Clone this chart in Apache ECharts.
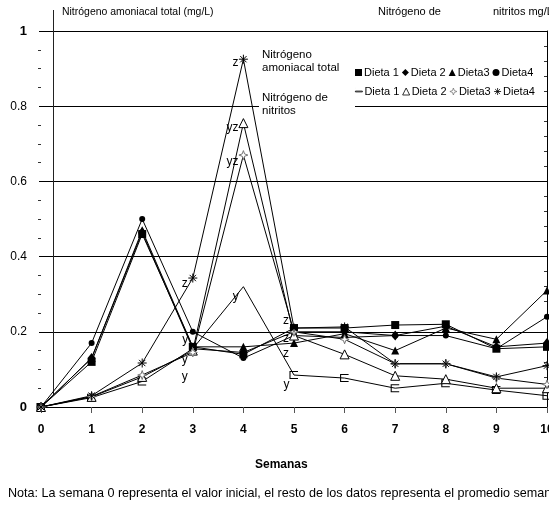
<!DOCTYPE html>
<html>
<head>
<meta charset="utf-8">
<script src="https://cdn.jsdelivr.net/npm/echarts@6/dist/echarts.min.js"></script>
<style>
  html, body { margin: 0; padding: 0; background: #fff; }
  #chart { width: 549px; height: 507px; }
</style>
</head>
<body>
<div id="chart"></div>
<script>
// Semanas de muestreo
const semanas = [0, 1, 2, 3, 4, 5, 6, 7, 8, 9, 10];

// Nitrógeno amoniacal total (mg/L) por dieta
const amonioDieta1 = [0, 0.12, 0.46, 0.16, 0.14, 0.21, 0.21, 0.218, 0.22, 0.155, 0.16];
const amonioDieta2 = [0, 0.13, 0.465, 0.155, 0.145, 0.20, 0.20, 0.19, 0.215, 0.16, 0.17];
const amonioDieta3 = [0, 0.13, 0.47, 0.16, 0.16, 0.17, 0.195, 0.15, 0.21, 0.18, 0.31];
const amonioDieta4 = [0, 0.17, 0.50, 0.20, 0.13, 0.19, 0.185, 0.19, 0.19, 0.155, 0.24];

// Nitrógeno de nitritos (mg/L) por dieta
const nitritoDieta1 = [0, 0.025, 0.068, 0.155, 0.32, 0.085, 0.077, 0.05, 0.063, 0.045, 0.03];
const nitritoDieta2 = [0, 0.027, 0.08, 0.15, 0.755, 0.19, 0.14, 0.083, 0.074, 0.05, 0.05];
const nitritoDieta3 = [0, 0.028, 0.085, 0.145, 0.67, 0.20, 0.18, 0.115, 0.115, 0.077, 0.06];
const nitritoDieta4 = [0, 0.03, 0.117, 0.343, 0.925, 0.21, 0.213, 0.115, 0.115, 0.08, 0.11];

// Letras de significancia sobre los nitritos
const letrasNitrito1 = ['', '', '', 'y', 'y', 'y', '', '', '', '', ''];
const letrasNitrito2 = ['', '', '', 'y', 'yz', 'z', '', '', '', '', ''];
const letrasNitrito3 = ['', '', '', 'y', 'yz', 'z', '', '', '', '', ''];
const letrasNitrito4 = ['', '', '', 'z', 'z', 'z', '', '', '', '', ''];

// Etiquetas de los ejes y de la leyenda
const ticksY = [0, 0.2, 0.4, 0.6, 0.8, 1];
const nombresDieta = ['Dieta 1', 'Dieta 2', 'Dieta3', 'Dieta4'];

// Desplazamiento vertical de cada letra (serie -> semana -> dy)
const desplazLetras = {
  1: { 3: -9, 4: 10, 5: 10 },
  2: { 3: 9, 4: 5, 5: 3 },
  3: { 3: 24, 4: 7, 5: 22 },
  4: { 3: 6, 4: 3, 5: -7 }
};
// Semanas en que la serie de nitritos 1 no muestra marcador
const sinMarcador1 = [3, 4];

function puntos(valores, letras, serieIdx, ocultos) {
  return semanas.map((s, i) => {
    const item = { value: [s, valores[i]] };
    if (ocultos && ocultos.indexOf(s) >= 0) {
      item.itemStyle = { borderColor: 'rgba(0,0,0,0)' };
    }
    if (letras && letras[i]) {
      const dy = (desplazLetras[serieIdx] && desplazLetras[serieIdx][s]) || 0;
      item.label = {
        show: true,
        formatter: letras[i],
        position: 'left',
        distance: 0,
        offset: [0, dy],
        color: '#000',
        fontSize: 12,
        fontFamily: 'Liberation Sans, Arial, sans-serif'
      };
    }
    return item;
  });
}

const FONT = 'Liberation Sans, Arial, sans-serif';
const asterisco = 'path://M5,0 L5,10 M0,5 L10,5 M1.5,1.5 L8.5,8.5 M1.5,8.5 L8.5,1.5';
const estrella = 'path://M5,0 L6.3,3.7 L10,5 L6.3,6.3 L5,10 L3.7,6.3 L0,5 L3.7,3.7 Z';
const corchete = 'path://M10,0 L0,0 L0,8 L10,8';
// raya fina; los puntos extremos mantienen el cuadro 10x10
const raya = 'path://M0,4.4 L10,4.4 L10,5.6 L0,5.6 Z M0,0 L0.01,0 Z M10,10 L9.99,10 Z';

function serie(nombre, valores, simbolo, tam, estilo, letras, idx, ocultos) {
  return {
    name: nombre,
    type: 'line',
    data: puntos(valores, letras, idx, ocultos),
    symbol: simbolo,
    symbolSize: tam,
    showSymbol: true,
    clip: false,
    lineStyle: { color: '#000', width: 1 },
    itemStyle: estilo,
    emphasis: { disabled: true },
    z: 3
  };
}

const negro = { color: '#000' };
const series = [
  serie(nombresDieta[0], amonioDieta1, 'rect', 8, negro, null, 0),
  serie(nombresDieta[1], amonioDieta2, 'diamond', [8, 10], negro, null, 0),
  serie(nombresDieta[2], amonioDieta3, 'triangle', 8, negro, null, 0),
  serie(nombresDieta[3], amonioDieta4, 'circle', 6, negro, null, 0),
  serie('N ' + nombresDieta[0], nitritoDieta1, corchete, [8, 7],
    { color: 'rgba(0,0,0,0)', borderColor: '#000', borderWidth: 1 }, letrasNitrito1, 1, sinMarcador1),
  serie('N ' + nombresDieta[1], nitritoDieta2, 'triangle', 9,
    { color: '#fff', borderColor: '#000', borderWidth: 1 }, letrasNitrito2, 2),
  serie('N ' + nombresDieta[2], nitritoDieta3, estrella, 9,
    { color: '#fff', borderColor: '#777', borderWidth: 1 }, letrasNitrito3, 3),
  serie('N ' + nombresDieta[3], nitritoDieta4, asterisco, 9,
    { color: 'rgba(0,0,0,0)', borderColor: '#000', borderWidth: 1 }, letrasNitrito4, 4)
];

const iconosAmonio = ['rect', 'diamond', 'triangle', 'circle'];
const iconosNitrito = [raya, 'triangle', estrella, asterisco];

const chart = echarts.init(document.getElementById('chart'), null, { renderer: 'canvas' });

const leyendaBase = {
  left: 355,
  width: 230,
  orient: 'horizontal',
  padding: 0,
  itemWidth: 7,
  itemHeight: 7,
  itemGap: 3,
  selectedMode: false,
  textStyle: { color: '#000', fontSize: 11, fontFamily: FONT, padding: [0, 0, 0, -3] }
};

chart.setOption({
  animation: false,
  backgroundColor: '#fff',
  grid: { left: 41, right: 2, top: 31, bottom: 100, outerBoundsMode: 'none', containLabel: false },
  xAxis: {
    type: 'value',
    min: 0,
    max: 10,
    interval: 1,
    axisLine: { show: true, lineStyle: { color: '#000', width: 1 } },
    axisTick: { show: true, length: 6, lineStyle: { color: '#555' } },
    axisLabel: { color: '#000', fontWeight: 'bold', fontSize: 12, fontFamily: FONT, margin: 17 },
    splitLine: { show: false }
  },
  yAxis: [
    {
      type: 'value',
      min: 0,
      max: 1,
      interval: 0.2,
      axisLine: { show: false },
      axisTick: { show: true, length: 2, lineStyle: { color: '#000' } },
      minorTick: { show: true, splitNumber: 4, length: 3, lineStyle: { color: '#333' } },
      axisLabel: {
        margin: 14,
        fontFamily: FONT,
        fontSize: 12,
        color: '#000',
        formatter: v => {
          const t = ticksY.find(k => Math.abs(k - v) < 1e-9);
          if (t === 0 || t === 1) return '{b|' + t + '}';
          return t.toFixed(1);
        },
        rich: { b: { fontWeight: 'bold', fontSize: 13, fontFamily: FONT, color: '#000' } }
      },
      splitLine: { show: true, lineStyle: { color: '#000', width: 1 } }
    },
    {
      type: 'value',
      position: 'right',
      min: 0,
      max: 1,
      interval: 0.2,
      axisLine: { show: true, lineStyle: { color: '#000', width: 1 } },
      axisTick: { show: true, inside: true, length: 3, lineStyle: { color: '#000' } },
      minorTick: { show: true, splitNumber: 5, length: 3, lineStyle: { color: '#333' } },
      axisLabel: { show: false },
      splitLine: { show: false }
    }
  ],
  legend: [
    Object.assign({}, leyendaBase, {
      top: 67,
      data: nombresDieta.map((n, i) => ({ name: n, icon: iconosAmonio[i] }))
    }),
    Object.assign({}, leyendaBase, {
      top: 86,
      itemStyle: { borderWidth: 0.8 },
      formatter: n => n.replace(/^N /, ''),
      data: nombresDieta.map((n, i) => ({ name: 'N ' + n, icon: iconosNitrito[i] }))
    })
  ],
  graphic: [
    // línea vertical del eje secundario
    { type: 'line', shape: { x1: 53.5, y1: 10, x2: 53.5, y2: 395 }, style: { stroke: '#222', lineWidth: 1 }, z: 1 },
    // fondo del rótulo de nitritos
    { type: 'rect', shape: { x: 259, y: 90, width: 96, height: 28 }, style: { fill: '#fff' }, z: 1 },
    { type: 'text', left: 62, top: 6, style: { text: 'Nitrógeno amoniacal total (mg/L)', font: '11px ' + FONT, fill: '#000' }, scaleX: 0.95, z: 4 },
    { type: 'text', left: 378, top: 6, style: { text: 'Nitrógeno de', font: '11px ' + FONT, fill: '#000' }, z: 4 },
    { type: 'text', left: 493, top: 6, style: { text: 'nitritos mg/L', font: '11px ' + FONT, fill: '#000' }, z: 4 },
    { type: 'text', left: 262, top: 48, style: { text: 'Nitrógeno\namoniacal total', font: '11.5px ' + FONT, fill: '#000', lineHeight: 13 }, z: 4 },
    { type: 'text', left: 262, top: 91, style: { text: 'Nitrógeno de\nnitritos', font: '11.5px ' + FONT, fill: '#000', lineHeight: 13 }, z: 4 },
    { type: 'text', left: 255, top: 459, style: { text: 'Semanas', font: 'bold 12px ' + FONT, fill: '#000' }, z: 4 },
    { type: 'text', left: 8, top: 487, style: { text: 'Nota: La semana 0 representa el valor inicial, el resto de los datos representa el promedio semanal', font: '12.6px ' + FONT, fill: '#000' }, z: 4 }
  ],
  series: series
});
</script>
</body>
</html>
